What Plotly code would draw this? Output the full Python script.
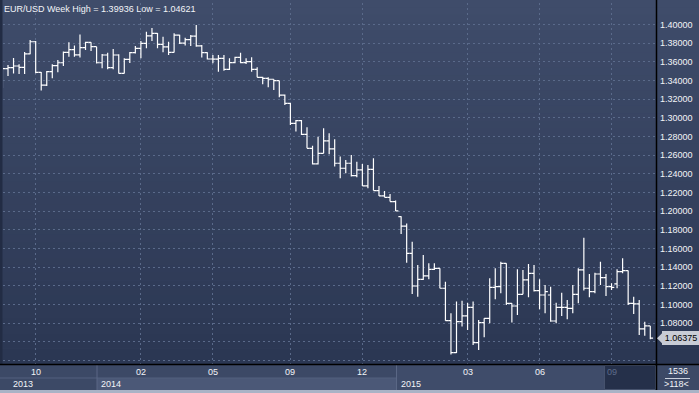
import plotly.graph_objects as go

# ---------------- data (weekly EUR/USD bars) ----------------
open_ = [1.3350, 1.3527, 1.3538, 1.3555, 1.3540, 1.3685, 1.3815, 1.3487, 1.3350, 1.3494,
         1.3560, 1.3590, 1.3702, 1.3730, 1.3675, 1.3752, 1.3809, 1.3762, 1.3590, 1.3673,
         1.3537, 1.3673, 1.3476, 1.3627, 1.3698, 1.3745, 1.3798, 1.3877, 1.3905, 1.3787,
         1.3760, 1.3702, 1.3887, 1.3800, 1.3838, 1.3875, 1.3770, 1.3698, 1.3630, 1.3628,
         1.3637, 1.3520, 1.3591, 1.3648, 1.3591, 1.3602, 1.3520, 1.3434, 1.3423, 1.3413,
         1.3398, 1.3244, 1.3155, 1.2941, 1.2970, 1.2823, 1.2673, 1.2506, 1.2619, 1.2752,
         1.2666, 1.2513, 1.2459, 1.2513, 1.2380, 1.2441, 1.2270, 1.2448, 1.2220, 1.2163,
         1.2148, 1.2102, 1.1940, 1.1840, 1.1547, 1.1197, 1.1269, 1.1305, 1.1376, 1.1387,
         1.1173, 1.0826, 1.0483, 1.0815, 1.0876, 1.0969, 1.0590, 1.0805, 1.0851, 1.1183,
         1.1190, 1.1440, 1.1012, 1.0983, 1.1108, 1.1262, 1.1333, 1.1148, 1.1101, 1.1101,
         1.0822, 1.0969, 1.0969, 1.0958, 1.1108, 1.1369, 1.1173, 1.1137, 1.1326, 1.1287,
         1.1190, 1.1219, 1.1351, 1.1362, 1.1012, 1.1005, 1.0737, 1.0769]

high = [1.3569, 1.3566, 1.3640, 1.3575, 1.3705, 1.3834, 1.3823, 1.3490, 1.3501, 1.3573,
        1.3619, 1.3710, 1.3809, 1.3775, 1.3894, 1.3816, 1.3809, 1.3762, 1.3684, 1.3698,
        1.3737, 1.3680, 1.3637, 1.3705, 1.3770, 1.3823, 1.3923, 1.3962, 1.3910, 1.3870,
        1.3815, 1.3905, 1.3890, 1.3858, 1.3888, 1.39936, 1.3780, 1.3702, 1.3673, 1.3673,
        1.3673, 1.3637, 1.3655, 1.3698, 1.3637, 1.3648, 1.3541, 1.3441, 1.3434, 1.3413,
        1.3398, 1.3250, 1.3160, 1.2977, 1.2977, 1.2898, 1.2700, 1.2798, 1.2887, 1.2834,
        1.2770, 1.2584, 1.2548, 1.2602, 1.2530, 1.2505, 1.2495, 1.2566, 1.2270, 1.2216,
        1.2184, 1.2113, 1.1945, 1.1868, 1.1672, 1.1422, 1.1530, 1.1440, 1.1440, 1.1387,
        1.1244, 1.0904, 1.1030, 1.1040, 1.1019, 1.1030, 1.0833, 1.0851, 1.1280, 1.1387,
        1.1458, 1.1440, 1.1012, 1.1376, 1.1369, 1.1433, 1.1423, 1.1269, 1.1208, 1.1190,
        1.1019, 1.1126, 1.1047, 1.1208, 1.1387, 1.1714, 1.1326, 1.1340, 1.1458, 1.1326,
        1.1226, 1.1376, 1.1494, 1.1362, 1.1083, 1.1047, 1.0815, 1.0769]

low = [1.3319, 1.3448, 1.3475, 1.3470, 1.3470, 1.3680, 1.3477, 1.3292, 1.3341, 1.3423,
       1.3487, 1.3555, 1.3655, 1.3655, 1.3645, 1.3727, 1.3716, 1.3583, 1.3530, 1.3520,
       1.3520, 1.3476, 1.3476, 1.3588, 1.3690, 1.3637, 1.3745, 1.3823, 1.3745, 1.3702,
       1.3673, 1.3700, 1.3790, 1.3775, 1.3770, 1.3762, 1.3645, 1.3626, 1.3584, 1.3494,
       1.3505, 1.3512, 1.3584, 1.3584, 1.3577, 1.3494, 1.3434, 1.3359, 1.3327, 1.3298,
       1.3220, 1.3137, 1.2923, 1.2852, 1.2816, 1.2673, 1.2500, 1.2500, 1.2619, 1.2609,
       1.2477, 1.2352, 1.2405, 1.2370, 1.2363, 1.2270, 1.2245, 1.2220, 1.2163, 1.2148,
       1.2102, 1.2002, 1.1755, 1.1447, 1.1111, 1.1082, 1.1262, 1.1269, 1.1369, 1.1173,
       1.0826, 1.04621, 1.0480, 1.0762, 1.0726, 1.0565, 1.0512, 1.0648, 1.0798, 1.1055,
       1.1119, 1.0994, 1.0805, 1.0887, 1.1108, 1.1076, 1.1137, 1.0947, 1.0904, 1.0815,
       1.0798, 1.0876, 1.0840, 1.0904, 1.1012, 1.1148, 1.1076, 1.1119, 1.1208, 1.1090,
       1.1155, 1.1173, 1.1333, 1.0994, 1.0897, 1.0672, 1.0665, 1.0626]

close = [1.3527, 1.3538, 1.3555, 1.3540, 1.3685, 1.3815, 1.3487, 1.3350, 1.3494, 1.3560,
         1.3590, 1.3702, 1.3730, 1.3675, 1.3752, 1.3809, 1.3762, 1.3590, 1.3673, 1.3537,
         1.3673, 1.3476, 1.3627, 1.3698, 1.3745, 1.3798, 1.3877, 1.3905, 1.3787, 1.3760,
         1.3702, 1.3887, 1.3800, 1.3838, 1.3875, 1.3770, 1.3698, 1.3630, 1.3628, 1.3637,
         1.3520, 1.3591, 1.3648, 1.3591, 1.3602, 1.3520, 1.3434, 1.3423, 1.3413, 1.3398,
         1.3244, 1.3155, 1.2941, 1.2970, 1.2823, 1.2673, 1.2506, 1.2619, 1.2752, 1.2666,
         1.2513, 1.2459, 1.2513, 1.2380, 1.2441, 1.2270, 1.2448, 1.2220, 1.2163, 1.2148,
         1.2102, 1.2002, 1.1840, 1.1547, 1.1197, 1.1269, 1.1305, 1.1376, 1.1387, 1.1173,
         1.0826, 1.0483, 1.0815, 1.0876, 1.0969, 1.0590, 1.0805, 1.0851, 1.1183, 1.1190,
         1.1440, 1.1012, 1.0983, 1.1108, 1.1262, 1.1333, 1.1148, 1.1101, 1.1137, 1.0822,
         1.0969, 1.0969, 1.0958, 1.1108, 1.1369, 1.1173, 1.1137, 1.1326, 1.1287, 1.1190,
         1.1183, 1.1351, 1.1362, 1.1012, 1.1005, 1.0737, 1.0769, 1.06375]

month_labels = ["10", "02", "05", "09", "12", "03", "06", "09"]
month_bar_index = [6, 25, 38, 52, 65, 84, 97, 110]
year_labels = ["2013", "2014", "2015"]
price_ticks = [1.04, 1.06, 1.08, 1.10, 1.12, 1.14, 1.16, 1.18, 1.20, 1.22, 1.24,
               1.26, 1.28, 1.30, 1.32, 1.34, 1.36, 1.38, 1.40]
price_labels = ["", "", "1.08000", "1.10000", "1.12000", "1.14000", "1.16000", "1.18000",
                "1.20000", "1.22000", "1.24000", "1.26000", "1.28000", "1.30000", "1.32000",
                "1.34000", "1.36000", "1.38000", "1.40000"]
symbol = "EUR/USD"
period = "Week"
counter_text = "1536"

# ---------------- layout geometry (pixels) ----------------
W, H = 699, 393
PL, PR, PT, PB = 3, 656, 3, 364          # plot area
ROW_SPLIT = 378                          # between month row and year row
PANEL_B = 390                            # bottom of axis panel
X_RANGE = [0.0975, 118.03]
Y_RANGE = [1.03612, 1.42304]
FONT = "Liberation Sans, Arial, sans-serif"
TXT = "#f2f4f8"


def fx(px):
    return px / W


def fy(py):
    return 1 - py / H


def lerp_col(c1, c2, t):
    a = [int(c1[i:i + 2], 16) for i in (1, 3, 5)]
    b = [int(c2[i:i + 2], 16) for i in (1, 3, 5)]
    return "#%02x%02x%02x" % tuple(round(a[k] + (b[k] - a[k]) * t) for k in range(3))


n = len(close)
xs = list(range(n))

fig = go.Figure(go.Ohlc(
    x=xs, open=open_, high=high, low=low, close=close,
    increasing=dict(line=dict(color="#ffffff", width=1.2)),
    decreasing=dict(line=dict(color="#ffffff", width=1.2)),
    tickwidth=0.5, hoverinfo="skip", showlegend=False,
))

shapes = []
# background gradient (plot + right price column)
N = 48
for k in range(N):
    y0 = PB * k / N
    y1 = PB * (k + 1) / N
    shapes.append(dict(type="rect", xref="paper", yref="paper", layer="below",
                       x0=0, x1=1, y0=fy(y1), y1=fy(y0) + 0.001, line_width=0,
                       fillcolor=lerp_col("#3f4c6a", "#2b3753", k / (N - 1))))
# left dark border
shapes.append(dict(type="rect", xref="paper", yref="paper", layer="above",
                   x0=0, x1=fx(2.5), y0=fy(PB), y1=1, line_width=0, fillcolor="#222c44"))


def prect(x0, x1, y0, y1, fill, line=None, layer="above"):
    d = dict(type="rect", xref="paper", yref="paper", layer=layer,
             x0=fx(x0), x1=fx(x1), y0=fy(y1), y1=fy(y0), fillcolor=fill)
    if line:
        d["line"] = dict(color=line, width=1)
    else:
        d["line_width"] = 0
    shapes.append(d)


def pline(x0, y0, x1, y1, color, width=1):
    shapes.append(dict(type="line", xref="paper", yref="paper", layer="above",
                       x0=fx(x0), x1=fx(x1), y0=fy(y0), y1=fy(y1),
                       line=dict(color=color, width=width)))


# bottom axis panel
prect(0, W, PB, H, "#3c4966")
prect(97, 396, ROW_SPLIT, PANEL_B, "#4b5877")
pline(0, ROW_SPLIT, 396, ROW_SPLIT, "#53607e")
pline(97, PB, 97, PANEL_B, "#5a6785")
prect(396, 604, PB + 1, PANEL_B, "#3f4c6a")
pline(396.5, PB, 396.5, PANEL_B, "#5a6785")
prect(604.5, 655.5, PB + 1.5, PANEL_B - 0.5, "#25304a", line="#46526d")
pline(665, ROW_SPLIT + 0.5, 690, ROW_SPLIT + 0.5, "#c9d0dc")
prect(0, W, PANEL_B, H, "#a9b3c6")
# black separators
pline(0, PB + 0.5, W, PB + 0.5, "#000000", 1.5)
pline(PR + 0.5, 0, PR + 0.5, PANEL_B, "#000000", 1.5)

# current price pointer
last = close[-1]
pointer_h = 5.5 / 933
shapes.append(dict(type="path", xref="paper", yref="y", layer="above",
                   path=f"M {fx(657)} {last} L {fx(662.5)} {last + pointer_h} "
                        f"L {fx(662.5)} {last - pointer_h} Z",
                   fillcolor="#c8ccd5", line_width=0))

annotations = []
annotations.append(dict(
    text=f"{symbol} {period} High = {max(high):.5f} Low = {min(low):.5f}",
    xref="paper", yref="paper", x=fx(3), y=fy(2.5), xanchor="left", yanchor="top",
    showarrow=False, font=dict(family=FONT, size=9, color=TXT), borderpad=0))

for i, (lab, bi) in enumerate(zip(month_labels, month_bar_index)):
    col = "#5e6c8a" if i == len(month_labels) - 1 else TXT
    annotations.append(dict(text=lab, xref="x", yref="paper", x=bi, y=fy(371.5),
                            xanchor="center", yanchor="middle", showarrow=False,
                            font=dict(family=FONT, size=9, color=col)))
for lab, px in zip(year_labels, [11.5, 99.5, 399.5]):
    annotations.append(dict(text=lab, xref="paper", yref="paper", x=fx(px), y=fy(383.5),
                            xanchor="left", yanchor="middle", showarrow=False,
                            font=dict(family=FONT, size=9, color=TXT), borderpad=0))

annotations.append(dict(text=counter_text, xref="paper", yref="paper", x=fx(677.5), y=fy(371),
                        xanchor="center", yanchor="middle", showarrow=False,
                        font=dict(family=FONT, size=9, color=TXT)))
annotations.append(dict(text=f"&gt;{n}&lt;", xref="paper", yref="paper", x=fx(676.5), y=fy(384),
                        xanchor="center", yanchor="middle", showarrow=False,
                        font=dict(family=FONT, size=9, color=TXT)))
annotations.append(dict(text=f"{last:.5f}", xref="paper", yref="y", x=fx(662), y=last,
                        xanchor="left", yanchor="middle", showarrow=False,
                        bgcolor="#c8ccd5", bordercolor="#c8ccd5", borderpad=1, width=34,
                        font=dict(family=FONT, size=9, color="#000000")))

fig.update_layout(
    width=W, height=H, autosize=False,
    margin=dict(l=0, r=0, t=0, b=0, pad=0),
    paper_bgcolor="#3c4966", plot_bgcolor="rgba(0,0,0,0)",
    shapes=shapes, annotations=annotations,
    font=dict(family=FONT, size=9, color=TXT),
    xaxis=dict(domain=[fx(PL), fx(PR)], range=X_RANGE, rangeslider=dict(visible=False),
               tickvals=month_bar_index, showticklabels=False, ticks="",
               showgrid=True, gridcolor="#5a6a8a", griddash="2px,3px", gridwidth=1,
               zeroline=False, showline=False, fixedrange=True),
    yaxis=dict(domain=[fy(PB), fy(PT)], range=Y_RANGE, side="right",
               tickvals=price_ticks, ticktext=price_labels,
               ticks="", ticklabelstandoff=3,
               tickfont=dict(family=FONT, size=9, color=TXT),
               showgrid=True, gridcolor="#5a6a8a", griddash="2px,3px", gridwidth=1,
               zeroline=False, showline=False, fixedrange=True),
)

fig.write_html("out.html")
